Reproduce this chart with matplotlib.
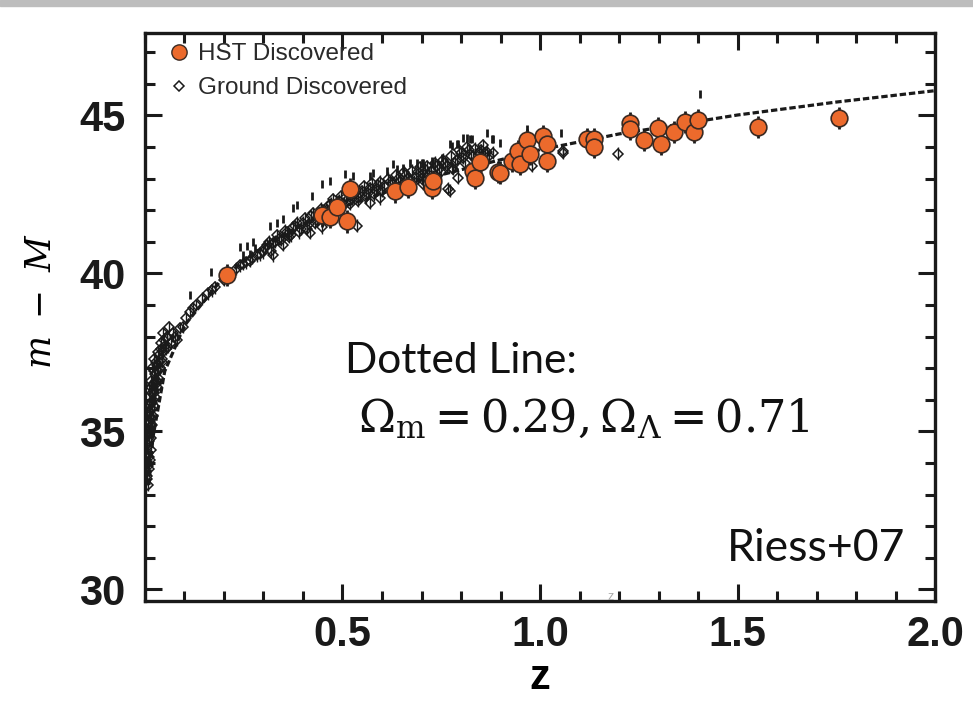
"""Hubble diagram (distance modulus vs redshift), HST vs ground-discovered SNe Ia."""

from __future__ import annotations

import matplotlib

matplotlib.use("Agg")
import matplotlib.pyplot as plt
from matplotlib.lines import Line2D
from matplotlib.patches import Rectangle
from matplotlib.ticker import MultipleLocator

# HST-discovered supernovae
HST_Z = [0.207, 0.448, 0.468, 0.486, 0.511, 0.519, 0.633, 0.666, 0.727, 0.729,
         0.830, 0.835, 0.848, 0.894, 0.899, 0.929, 0.944, 0.949, 0.967, 0.975,
         1.008, 1.018, 1.018, 1.119, 1.137, 1.137, 1.228, 1.228, 1.263, 1.299,
         1.306, 1.339, 1.367, 1.390, 1.400, 1.552, 1.757]
HST_MU = [39.94, 41.83, 41.77, 42.11, 41.64, 42.68, 42.59, 42.74, 42.71, 42.93,
          43.25, 43.03, 43.53, 43.22, 43.19, 43.56, 43.88, 43.47, 44.23, 43.79,
          44.35, 44.10, 43.56, 44.26, 44.26, 44.00, 44.76, 44.57, 44.23, 44.61,
          44.10, 44.48, 44.79, 44.48, 44.86, 44.64, 44.92]
HST_ERR = [0.35] * len(HST_Z)

# ground-discovered supernovae
GROUND_Z = [
    0.008, 0.006, 0.010, 0.005, 0.012, 0.008, 0.014, 0.006, 0.011, 0.016,
    0.009, 0.013, 0.018, 0.007, 0.015, 0.020, 0.011, 0.017, 0.023, 0.014,
    0.020, 0.026, 0.018, 0.024, 0.030, 0.021, 0.028, 0.034, 0.026, 0.032,
    0.038, 0.030, 0.036, 0.042, 0.035, 0.045, 0.040, 0.050, 0.048, 0.055,
    0.004, 0.007, 0.010, 0.005, 0.009, 0.012, 0.016, 0.019, 0.013, 0.022,
    0.016, 0.027, 0.024, 0.031, 0.029, 0.037, 0.033, 0.044, 0.041, 0.052,
    0.046, 0.057, 0.062, 0.070, 0.003, 0.004, 0.006, 0.009, 0.011, 0.014,
    0.019, 0.022,
    0.058, 0.065, 0.075, 0.081, 0.089, 0.096, 0.105, 0.114, 0.122, 0.130,
    0.145, 0.160, 0.170, 0.177, 0.200, 0.215, 0.230, 0.240, 0.248, 0.255,
    0.266, 0.270, 0.284, 0.290, 0.300, 0.324, 0.362, 0.418, 0.448, 0.537,
    0.570, 0.595, 0.704, 0.767, 0.772, 0.777, 0.793, 0.881, 0.980, 1.058,
    1.058, 1.197,
    0.31, 0.32, 0.33, 0.34, 0.35, 0.36, 0.37, 0.38, 0.39, 0.40,
    0.41, 0.42, 0.43, 0.44, 0.45, 0.46, 0.47, 0.48, 0.49, 0.50,
    0.51, 0.52, 0.53, 0.54, 0.55, 0.56, 0.57, 0.58, 0.59, 0.60,
    0.62, 0.63, 0.64, 0.65, 0.66, 0.68, 0.69, 0.70, 0.71, 0.72,
    0.74, 0.75, 0.76, 0.78, 0.79, 0.80, 0.81, 0.82, 0.83, 0.84,
    0.85, 0.86, 0.87,
    0.305, 0.315, 0.325, 0.335, 0.345, 0.355, 0.365, 0.375, 0.385, 0.395,
    0.405, 0.415, 0.425, 0.435, 0.445, 0.455, 0.465, 0.475, 0.485, 0.495,
    0.505, 0.515, 0.525, 0.535, 0.545, 0.555, 0.565, 0.575, 0.585, 0.595,
    0.605, 0.615, 0.625, 0.635, 0.645, 0.655, 0.665, 0.675, 0.685, 0.695,
    0.705, 0.715, 0.725, 0.735, 0.745, 0.755, 0.765, 0.775, 0.785, 0.795,
    0.805, 0.815, 0.825, 0.835, 0.845, 0.855, 0.865,
]
GROUND_MU = [
    33.30, 33.60, 33.80, 34.00, 34.10, 34.30, 34.40, 34.60, 34.70, 34.80,
    35.00, 35.10, 35.20, 35.30, 35.40, 35.50, 35.60, 35.70, 35.80, 35.90,
    36.00, 36.10, 36.20, 36.30, 36.40, 36.50, 36.60, 36.70, 36.80, 36.90,
    37.00, 37.10, 37.20, 37.30, 37.40, 37.50, 37.60, 37.70, 37.90, 38.00,
    33.50, 33.90, 34.20, 34.50, 34.90, 35.30, 35.00, 35.90, 35.50, 36.20,
    36.40, 36.50, 36.90, 36.60, 37.20, 37.00, 37.50, 37.20, 37.80, 37.60,
    38.10, 38.00, 38.30, 38.10, 34.20, 34.90, 35.60, 35.80, 36.30, 36.60,
    37.00, 37.30,
    37.67, 37.80, 38.00, 37.90, 38.27, 38.30, 38.60, 38.77, 38.90, 39.00,
    39.20, 39.37, 39.46, 39.56, 39.80, 40.00, 40.15, 40.25, 40.30, 40.35,
    40.40, 40.50, 40.57, 40.60, 40.66, 40.57, 41.26, 41.29, 41.45, 41.51,
    42.24, 42.37, 42.84, 42.68, 42.62, 43.34, 43.03, 43.82, 43.41, 43.82,
    43.88, 43.79,
    40.90, 40.70, 41.00, 41.10, 40.90, 41.30, 41.20, 41.50, 41.30, 41.60,
    41.40, 41.80, 41.60, 41.90, 41.70, 42.00, 42.20, 41.90, 42.30, 42.10,
    42.40, 42.20, 42.50, 42.30, 42.60, 42.40, 42.70, 42.50, 42.80, 42.60,
    42.90, 42.70, 43.00, 42.80, 43.10, 42.90, 43.20, 43.00, 43.30, 43.10,
    43.40, 43.20, 43.50, 43.30, 43.60, 43.80, 43.50, 43.90, 43.70, 43.60,
    43.90, 43.80, 43.70,
    40.80, 41.00, 40.95, 41.20, 41.05, 41.35, 41.15, 41.45, 41.60, 41.40,
    41.75, 41.55, 41.90, 41.70, 42.05, 41.85, 42.15, 42.35, 42.00, 42.45,
    42.20, 42.55, 42.35, 42.65, 42.45, 42.75, 42.55, 42.85, 42.65, 42.90,
    42.75, 43.00, 42.85, 43.10, 42.90, 43.20, 43.00, 43.25, 43.05, 43.35,
    43.15, 43.40, 43.25, 43.50, 43.30, 43.60, 43.40, 43.70, 43.50, 43.90,
    43.65, 44.00, 43.75, 43.95, 43.80, 44.05, 43.85,
]
GROUND_ERR = [0.2] * len(GROUND_Z)

# upper error-bar tips of the ground sample that stick out of the cloud
TIP_Z = [0.068, 0.114, 0.167, 0.240, 0.248, 0.258, 0.266, 0.273, 0.278, 0.316,
         0.334, 0.350, 0.375, 0.385, 0.423, 0.448, 0.468, 0.506, 0.527, 0.570,
         0.577, 0.612, 0.628, 0.638, 0.653, 0.671, 0.689, 0.701, 0.704, 0.727,
         0.729, 0.752, 0.772, 0.777, 0.790, 0.793, 0.805, 0.815, 0.823, 0.828,
         0.866, 0.878, 0.881, 0.899, 0.967, 1.053, 1.405]
TIP_MU = [37.95, 39.30, 40.03, 40.82, 40.57, 40.88, 40.60, 40.98, 40.80, 41.51,
          41.58, 41.73, 42.08, 42.15, 42.46, 42.84, 42.93, 43.15, 43.09, 43.09,
          43.19, 43.25, 43.47, 43.31, 43.34, 43.50, 43.50, 43.50, 43.50, 43.56,
          43.50, 43.66, 44.10, 44.04, 44.10, 44.10, 44.29, 44.29, 44.26, 44.26,
          44.45, 44.26, 44.26, 44.13, 44.57, 44.45, 45.68]

# dotted model curve, Omega_m = 0.29, Omega_L = 0.71
MODEL_Z = [0.01, 0.02, 0.05, 0.1, 0.2, 0.3, 0.4, 0.5, 0.7, 1.0, 1.2, 1.5, 1.75, 2.0]
MODEL_MU = [33.30, 34.80, 36.90, 38.35, 39.90, 40.85, 41.55, 42.10, 42.96, 43.91,
            44.41, 45.01, 45.42, 45.78]

X_TICKS = [0.5, 1.0, 1.5, 2.0]
X_TICK_LABELS = ["0.5", "1.0", "1.5", "2.0"]
Y_TICKS = [30, 35, 40, 45]

INK = "#1a1a1a"
ORANGE = "#ec6a2c"
EDGE = "#3b2a22"
TICK_FONT = ["Liberation Sans", "DejaVu Sans"]
NOTE_FONT = ["Lato", "DejaVu Sans"]


def main() -> None:
    plt.rcParams["mathtext.fontset"] = "dejavuserif"
    fig = plt.figure(figsize=(9.73, 7.21), dpi=100)
    fig.patches.append(
        Rectangle((0, 0.992), 1, 0.008, transform=fig.transFigure,
                  color="#bdbdbd", zorder=0)
    )
    ax = fig.add_axes([0.149, 0.166, 0.812, 0.788])

    ax.plot(MODEL_Z, MODEL_MU, color=INK, linewidth=2.3,
            linestyle=(0, (2.0, 0.9)), zorder=2)
    ax.errorbar(GROUND_Z, GROUND_MU, yerr=GROUND_ERR, fmt="none", ecolor=INK,
                elinewidth=1.0, zorder=3)
    ax.plot(GROUND_Z, GROUND_MU, linestyle="none", marker="D", markersize=5,
            markerfacecolor="none", markeredgecolor=INK,
            markeredgewidth=1.1, zorder=3)
    ax.plot(TIP_Z, TIP_MU, linestyle="none", marker="|", markersize=6,
            markeredgewidth=2.0, color=INK, zorder=3)
    ax.errorbar(HST_Z, HST_MU, yerr=HST_ERR, fmt="none", ecolor=INK,
                elinewidth=2.0, zorder=4)
    ax.plot(HST_Z, HST_MU, linestyle="none", marker="o", markersize=12,
            markerfacecolor=ORANGE, markeredgecolor=EDGE,
            markeredgewidth=1.2, zorder=5)

    ax.set_xlim(0.0, 2.0)
    ax.set_ylim(29.62, 47.6)
    ax.set_xticks(X_TICKS)
    ax.set_xticklabels(X_TICK_LABELS)
    ax.set_yticks(Y_TICKS)
    ax.xaxis.set_minor_locator(MultipleLocator(0.1))
    ax.yaxis.set_minor_locator(MultipleLocator(1))
    ax.tick_params(which="both", direction="in", top=True, right=True,
                   width=2.2, color=INK)
    ax.tick_params(which="major", length=12, labelsize=30)
    ax.tick_params(which="minor", length=7)
    ax.tick_params(axis="y", which="major", pad=14)
    ax.tick_params(axis="x", which="major", pad=10)
    for label in ax.get_xticklabels() + ax.get_yticklabels():
        label.set_family(TICK_FONT)
        label.set_fontweight("bold")
        label.set_color(INK)
    for spine in ax.spines.values():
        spine.set_linewidth(2.4)
        spine.set_color(INK)

    ax.set_xlabel("z", fontsize=30, fontweight="bold", family=TICK_FONT,
                  labelpad=2)
    fig.text(0.042, 0.582, r"$m\ -\ M$", rotation=90, fontsize=25,
             ha="center", va="center")

    handles = [
        Line2D([], [], linestyle="none", marker="o", markersize=11,
               markerfacecolor=ORANGE, markeredgecolor=EDGE),
        Line2D([], [], linestyle="none", marker="D", markersize=5,
               markerfacecolor="none", markeredgecolor=INK,
               markeredgewidth=1.1),
    ]
    ax.legend(handles, ["HST Discovered", "Ground Discovered"], loc="upper left",
              bbox_to_anchor=(0.018, 0.991), frameon=False,
              prop={"family": TICK_FONT, "size": 17.5},
              handletextpad=0.2, handlelength=1.2, borderaxespad=0.0,
              borderpad=0.2, labelspacing=0.5, labelcolor="#2a2a2a")

    ax.text(0.506, 36.85, "Dotted Line:", fontsize=30.5, family=NOTE_FONT,
            color="#111111")
    ax.text(0.54, 34.98, r"$\Omega_{\mathrm{m}} = 0.29, \Omega_{\Lambda} = 0.71$",
            fontsize=32, color="#111111")
    ax.text(1.473, 30.88, "Riess+07", fontsize=32, family=NOTE_FONT,
            color="#111111")
    ax.text(1.17, 29.66, "z", fontsize=9, color="#aaaaaa", family=TICK_FONT)

    fig.savefig("out.png", dpi=100)
    plt.close(fig)


if __name__ == "__main__":
    main()
